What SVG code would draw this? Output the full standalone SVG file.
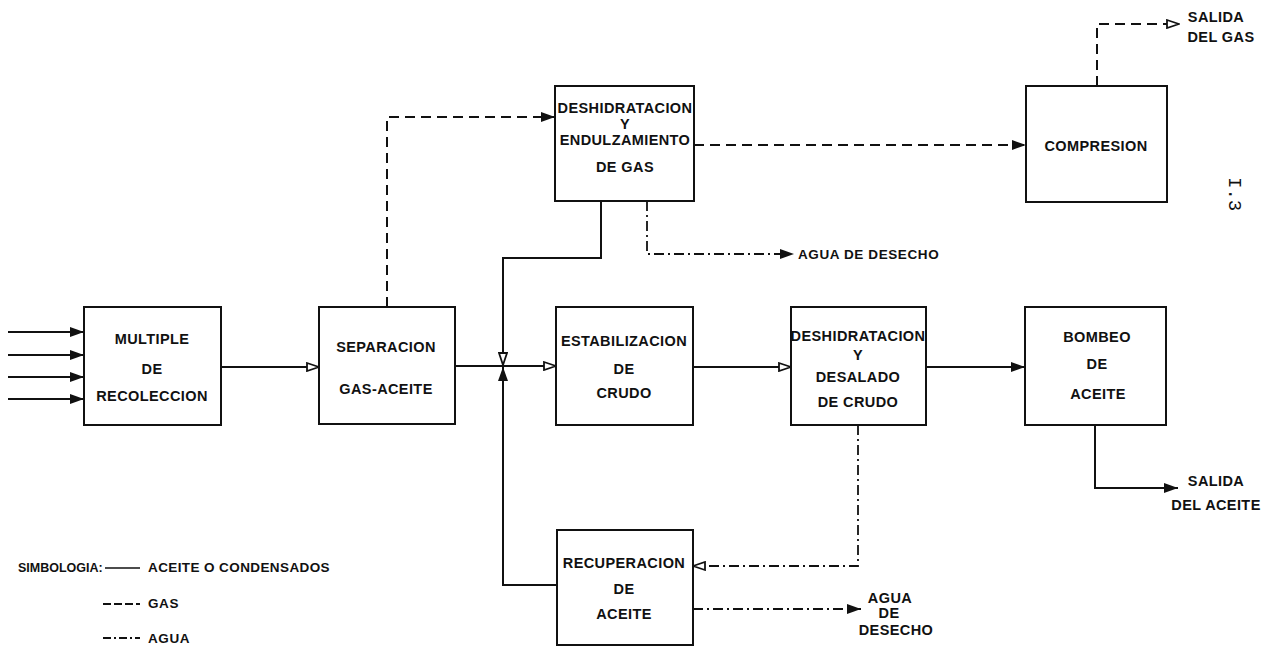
<svg xmlns="http://www.w3.org/2000/svg" width="1267" height="649" viewBox="0 0 1267 649">
<style>
.box{fill:#fff;stroke:#111;stroke-width:2}
.t{font-family:"Liberation Sans",Arial,sans-serif;font-weight:bold;font-size:14.5px;fill:#111;text-anchor:middle;letter-spacing:0.4px}
.tl{font-family:"Liberation Sans",Arial,sans-serif;font-weight:bold;font-size:13.5px;fill:#111;letter-spacing:0.6px}
.oil{fill:none;stroke:#111;stroke-width:2}
.gas{fill:none;stroke:#111;stroke-width:2;stroke-dasharray:10 6}
.wat{fill:none;stroke:#111;stroke-width:1.8;stroke-dasharray:10 4 2 4}
</style>
<defs>
<marker id="af" viewBox="0 0 14 10" refX="14" refY="5" markerWidth="14" markerHeight="10" markerUnits="userSpaceOnUse" orient="auto">
<path d="M0,0 L14,5 L0,10 Z" fill="#111"/>
</marker>
<marker id="ah" viewBox="0 0 14 10" refX="13" refY="5" markerWidth="14" markerHeight="10" markerUnits="userSpaceOnUse" orient="auto">
<path d="M1,1 L13,5 L1,9 Z" fill="#fff" stroke="#111" stroke-width="1.8"/>
</marker>
</defs>

<g id="connectors">
<path class="oil" d="M8,332 H84" marker-end="url(#af)"/>
<path class="oil" d="M8,355 H84" marker-end="url(#af)"/>
<path class="oil" d="M8,377 H84" marker-end="url(#af)"/>
<path class="oil" d="M8,399 H84" marker-end="url(#af)"/>
<path class="oil" d="M221,367 H319" marker-end="url(#ah)"/>
<path class="oil" d="M455,366 H556" marker-end="url(#ah)"/>
<path class="oil" d="M601,201 V258 H503 V365" marker-end="url(#ah)"/>
<path class="oil" d="M557,585 H503 V367" marker-end="url(#af)"/>
<path class="oil" d="M693,367 H791" marker-end="url(#ah)"/>
<path class="oil" d="M926,367 H1025" marker-end="url(#af)"/>
<path class="oil" d="M1095,425 V488 H1178" marker-end="url(#af)"/>
<path class="gas" d="M387,307 V117 H555" marker-end="url(#af)"/>
<path class="gas" d="M694,145 H1026" marker-end="url(#af)"/>
<path class="gas" d="M1097,86 V24 H1179" marker-end="url(#ah)"/>
<path class="wat" d="M647,201 V254 H794" marker-end="url(#af)"/>
<path class="wat" d="M858,425 V566 H693" marker-end="url(#ah)"/>
<path class="wat" d="M693,609 H861" marker-end="url(#af)"/>
</g>

<g id="multiple">
<rect class="box" x="84" y="307" width="137" height="118"/>
<text class="t" x="152" y="344">MULTIPLE</text>
<text class="t" x="152" y="374">DE</text>
<text class="t" x="152" y="401">RECOLECCION</text>
</g>

<g id="separacion">
<rect class="box" x="319" y="307" width="136" height="117"/>
<text class="t" x="386" y="352">SEPARACION</text>
<text class="t" x="386" y="394">GAS-ACEITE</text>
</g>

<g id="deshidratacion-gas">
<rect class="box" x="555" y="86" width="139" height="115"/>
<text class="t" x="625" y="113">DESHIDRATACION</text>
<text class="t" x="625" y="129">Y</text>
<text class="t" x="625" y="145">ENDULZAMIENTO</text>
<text class="t" x="625" y="172">DE GAS</text>
</g>

<g id="compresion">
<rect class="box" x="1026" y="86" width="141" height="116"/>
<text class="t" x="1096" y="151">COMPRESION</text>
</g>

<g id="estabilizacion">
<rect class="box" x="556" y="307" width="137" height="118"/>
<text class="t" x="624" y="346">ESTABILIZACION</text>
<text class="t" x="624" y="374">DE</text>
<text class="t" x="624" y="398">CRUDO</text>
</g>

<g id="deshidratacion-crudo">
<rect class="box" x="791" y="307" width="135" height="118"/>
<text class="t" x="858" y="341">DESHIDRATACION</text>
<text class="t" x="858" y="360">Y</text>
<text class="t" x="858" y="382">DESALADO</text>
<text class="t" x="858" y="407">DE CRUDO</text>
</g>

<g id="bombeo">
<rect class="box" x="1025" y="307" width="141" height="118"/>
<text class="t" x="1097" y="342">BOMBEO</text>
<text class="t" x="1097" y="369">DE</text>
<text class="t" x="1098" y="399">ACEITE</text>
</g>

<g id="recuperacion">
<rect class="box" x="557" y="530" width="136" height="115"/>
<text class="t" x="624" y="568">RECUPERACION</text>
<text class="t" x="624" y="594">DE</text>
<text class="t" x="624" y="619">ACEITE</text>
</g>

<g id="labels">
<text class="t" x="1216" y="22">SALIDA</text>
<text class="t" x="1221" y="42">DEL GAS</text>
<text class="t" x="1216" y="486">SALIDA</text>
<text class="t" x="1216" y="510">DEL ACEITE</text>
<text class="tl" x="798" y="259">AGUA DE DESECHO</text>
<text class="t" x="890" y="603">AGUA</text>
<text class="t" x="889" y="618">DE</text>
<text class="t" x="896" y="635">DESECHO</text>
<text transform="translate(1229,177) rotate(90)" font-family="'Liberation Mono','Courier New',monospace" font-size="19" fill="#111">I.3</text>
</g>

<g id="legend">
<text class="tl" x="18" y="572" style="font-size:12.5px;letter-spacing:0">SIMBOLOGIA:</text>
<line class="oil" x1="105" y1="568" x2="140" y2="568" style="stroke-width:1.5"/>
<text class="tl" x="148" y="572" style="letter-spacing:0.4px">ACEITE O CONDENSADOS</text>
<line class="gas" x1="103" y1="604" x2="140" y2="604" style="stroke-dasharray:8 3"/>
<text class="tl" x="148" y="608">GAS</text>
<line class="wat" x1="103" y1="638" x2="140" y2="638" style="stroke-dasharray:8 3 2 3"/>
<text class="tl" x="148" y="643">AGUA</text>
</g>
</svg>
